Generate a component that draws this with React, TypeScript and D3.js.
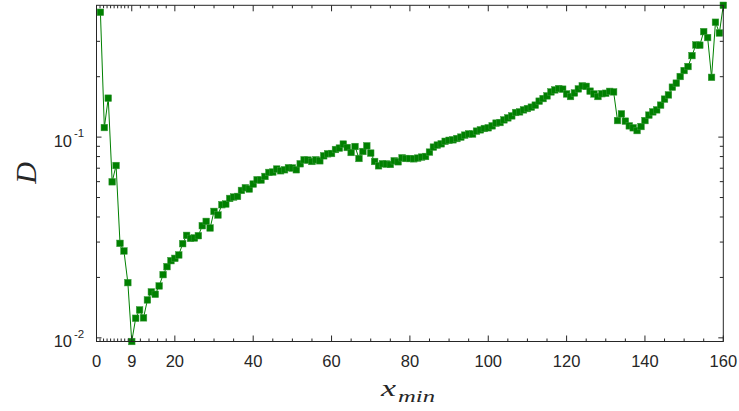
import React from 'react';
import * as d3 from 'd3';

const xValues = [
  1, 2, 3, 4, 5, 6, 7, 8, 9, 10, 11, 12, 13, 14, 15, 16, 17, 18, 19, 20,
  21, 22, 23, 24, 25, 26, 27, 28, 29, 30, 31, 32, 33, 34, 35, 36, 37, 38, 39, 40,
  41, 42, 43, 44, 45, 46, 47, 48, 49, 50, 51, 52, 53, 54, 55, 56, 57, 58, 59, 60,
  61, 62, 63, 64, 65, 66, 67, 68, 69, 70, 71, 72, 73, 74, 75, 76, 77, 78, 79, 80,
  81, 82, 83, 84, 85, 86, 87, 88, 89, 90, 91, 92, 93, 94, 95, 96, 97, 98, 99, 100,
  101, 102, 103, 104, 105, 106, 107, 108, 109, 110, 111, 112, 113, 114, 115, 116, 117, 118, 119, 120,
  121, 122, 123, 124, 125, 126, 127, 128, 129, 130, 131, 132, 133, 134, 135, 136, 137, 138, 139, 140,
  141, 142, 143, 144, 145, 146, 147, 148, 149, 150, 151, 152, 153, 154, 155, 156, 157, 158, 159, 160,
];

const dValues = [
  0.4187, 0.1116, 0.1563, 0.0599, 0.0722, 0.02956, 0.02709, 0.01884, 0.00959, 0.01252,
  0.01378, 0.01258, 0.01545, 0.01694, 0.01648, 0.01814, 0.02065, 0.02263, 0.02424, 0.02489,
  0.02588, 0.02946, 0.03239, 0.0313, 0.03144, 0.03228, 0.0362, 0.03803, 0.03526, 0.04265,
  0.04091, 0.04604, 0.04642, 0.04948, 0.05029, 0.05064, 0.05424, 0.05595, 0.05512, 0.05836,
  0.06131, 0.0611, 0.06368, 0.06667, 0.06698, 0.06932, 0.06798, 0.06877, 0.07037, 0.0702,
  0.06877, 0.07366, 0.07711, 0.07684, 0.07562, 0.0771, 0.07622, 0.08072, 0.08258, 0.08287,
  0.08675, 0.08816, 0.09231, 0.08876, 0.08382, 0.08978, 0.07826, 0.08479, 0.09051, 0.08325,
  0.07562, 0.07197, 0.07366, 0.0735, 0.07308, 0.07622, 0.07536, 0.07889, 0.07826, 0.0782,
  0.07798, 0.07862, 0.07953, 0.08008, 0.0842, 0.08916, 0.09125, 0.09262, 0.0953, 0.0964,
  0.09696, 0.0984, 0.1, 0.1023, 0.1038, 0.1036, 0.1071, 0.1087, 0.1104, 0.1113,
  0.1138, 0.1174, 0.1182, 0.1219, 0.1247, 0.1276, 0.1326, 0.1336, 0.1367, 0.1388,
  0.141, 0.1443, 0.151, 0.1556, 0.1605, 0.168, 0.1719, 0.1745, 0.1733, 0.1641,
  0.1593, 0.166, 0.1739, 0.18, 0.179, 0.1694, 0.1641, 0.1593, 0.1645, 0.1654,
  0.169, 0.168, 0.1209, 0.1306, 0.1201, 0.1138, 0.1113, 0.1078, 0.1129, 0.1209,
  0.1287, 0.1336, 0.1367, 0.1443, 0.1546, 0.1623, 0.1773, 0.1857, 0.2004, 0.2146,
  0.2247, 0.2547, 0.2879, 0.287, 0.3353, 0.3133, 0.1985, 0.3735, 0.3301, 0.4536,
];

const xMajorTicks = [0, 9, 20, 40, 60, 80, 100, 120, 140, 160];
const xMinorTicks = [
  0.9, 1.8, 2.7, 3.6, 4.5, 5.4, 6.3, 7.2, 8.1,
  11.2, 13.4, 15.6, 17.8,
  25, 30, 35, 45, 50, 55, 65, 70, 75, 85, 90, 95, 105, 110, 115, 125, 130, 135, 145, 150, 155,
];
const yMajorTicks = [0.01, 0.1];
const yMajorExponents = ['-2', '-1'];
const yMinorTicks = [0.02, 0.03, 0.04, 0.05, 0.06, 0.07, 0.08, 0.09, 0.2, 0.3];

const W = 739;
const H = 411;
const left = 96.5;
const right = 723.3;
const top = 5.3;
const bottom = 341.5;
const axisColor = '#262626';
const green = '#008000';

export default function App() {
  const x = d3.scaleLinear().domain([0, 160]).range([left, right]);
  const yMin = d3.min(dValues) as number;
  const yMax = d3.max(dValues) as number;
  const y = d3.scaleLog().domain([yMin, yMax]).range([bottom, top]);

  const pts = xValues.map((xv, i) => [xv, dValues[i]] as [number, number]);
  const line = d3
    .line<[number, number]>()
    .x((d) => x(d[0]))
    .y((d) => y(d[1]));

  const xMajLen = 6;
  const xMinLen = 3;
  const yMajLen = 5;
  const yMinLen = 3.5;
  const font = 'Liberation Sans, Arial, sans-serif';
  const serif = "Liberation Serif, 'DejaVu Serif', serif";

  return (
    <svg
      width={W}
      height={H}
      style={{ position: 'absolute', left: 0, top: 0, background: '#fff' }}
    >
      <rect x={0} y={0} width={W} height={H} fill="#fff" />
      {/* data */}
      <path d={line(pts) || ''} fill="none" stroke={green} strokeWidth={1} />
      {pts.map((p, i) => (
        <rect
          key={i}
          x={x(p[0]) - 3.3}
          y={y(p[1]) - 3.3}
          width={6.6}
          height={6.6}
          fill={green}
          stroke="#3a9a3a"
          strokeWidth={0.5}
        />
      ))}
      {/* axes box */}
      <rect
        x={left}
        y={top}
        width={right - left}
        height={bottom - top}
        fill="none"
        stroke={axisColor}
        strokeWidth={1}
      />
      {/* x ticks */}
      {xMajorTicks.map((t) => (
        <g key={'xM' + t}>
          <line x1={x(t)} x2={x(t)} y1={bottom} y2={bottom - xMajLen} stroke={axisColor} strokeWidth={1} />
          <line x1={x(t)} x2={x(t)} y1={top} y2={top + xMajLen} stroke={axisColor} strokeWidth={1} />
          <text
            x={x(t)}
            y={367}
            textAnchor="middle"
            fontFamily={font}
            fontSize={16.5}
            fill={axisColor}
          >
            {t}
          </text>
        </g>
      ))}
      {xMinorTicks.map((t) => (
        <g key={'xm' + t}>
          <line x1={x(t)} x2={x(t)} y1={bottom} y2={bottom - xMinLen} stroke={axisColor} strokeWidth={1} />
          <line x1={x(t)} x2={x(t)} y1={top} y2={top + xMinLen} stroke={axisColor} strokeWidth={1} />
        </g>
      ))}
      {/* y ticks */}
      {yMajorTicks.map((t, i) => (
        <g key={'yM' + t}>
          <line x1={left} x2={left + yMajLen} y1={y(t)} y2={y(t)} stroke={axisColor} strokeWidth={1} />
          <line x1={right} x2={right - yMajLen} y1={y(t)} y2={y(t)} stroke={axisColor} strokeWidth={1} />
          <text x={72} y={y(t) + 9.5} textAnchor="end" fontFamily={font} fontSize={16.5} fill={axisColor}>
            10
          </text>
          <text x={74} y={y(t) + 0} textAnchor="start" fontFamily={font} fontSize={11.5} fill={axisColor}>
            {yMajorExponents[i]}
          </text>
        </g>
      ))}
      {yMinorTicks.map((t) => (
        <g key={'ym' + t}>
          <line x1={left} x2={left + yMinLen} y1={y(t)} y2={y(t)} stroke={axisColor} strokeWidth={1} />
          <line x1={right} x2={right - yMinLen} y1={y(t)} y2={y(t)} stroke={axisColor} strokeWidth={1} />
        </g>
      ))}
      {/* axis labels */}
      <text
        transform="translate(36,173) rotate(-90)"
        textAnchor="middle"
        fontFamily={serif}
        fontStyle="italic"
        fontSize={30}
        fill={axisColor}
      >
        D
      </text>
      <text
        x={381}
        y={395.5}
        fontFamily={serif}
        fontStyle="italic"
        fontSize={23}
        fill={axisColor}
        textLength={15}
        lengthAdjust="spacingAndGlyphs"
      >
        x
      </text>
      <text
        x={398}
        y={401.5}
        fontFamily={serif}
        fontStyle="italic"
        fontSize={17}
        fill={axisColor}
        textLength={37}
        lengthAdjust="spacingAndGlyphs"
      >
        min
      </text>
    </svg>
  );
}
